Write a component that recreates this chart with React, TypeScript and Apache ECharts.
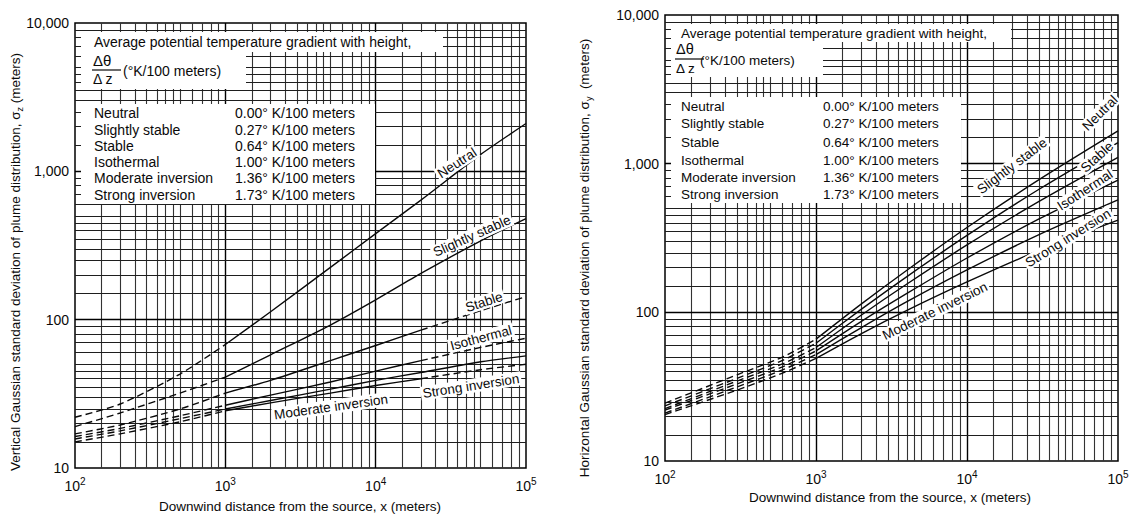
import React, { useEffect, useRef } from "react";
import * as echarts from "echarts";

// ---------- tick labels ----------
const xTickValues = [100, 1000, 10000, 100000];
const xTickLabels = ["10^2", "10^3", "10^4", "10^5"];
const yTickValues = [10, 100, 1000, 10000];
const yTickLabels = ["10", "100", "1,000", "10,000"];
const gridMultiples = [1.5, 2, 2.5, 3, 3.5, 4, 4.5, 5, 6, 7, 8, 9];

// ---------- legend ----------
const stabilityClasses = ["Neutral", "Slightly stable", "Stable", "Isothermal", "Moderate inversion", "Strong inversion"];
const gradientLabels = [
  "0.00\u00b0 K/100 meters",
  "0.27\u00b0 K/100 meters",
  "0.64\u00b0 K/100 meters",
  "1.00\u00b0 K/100 meters",
  "1.36\u00b0 K/100 meters",
  "1.73\u00b0 K/100 meters",
];

// ---------- vertical sigma_z (left panel) ----------
const sigmaZDistance = [100, 200, 500, 1000, 2000, 5000, 10000, 20000, 50000, 100000];
const sigmaZNeutral = [22, 27, 43, 68, 113, 225, 380, 640, 1300, 2100];
const sigmaZSlightlyStable = [19, 23.5, 32, 41, 58, 92, 136, 205, 340, 480];
const sigmaZStable = [17, 19.5, 25, 32, 39, 53, 67, 85, 115, 143];
const sigmaZIsothermal = [16.3, 18.5, 22.5, 26.5, 31, 38, 45, 53, 65, 75];
const sigmaZModerate = [15.7, 17.8, 21.5, 25, 28.5, 34, 39, 44, 52, 57];
const sigmaZStrong = [15, 17, 20.5, 24.3, 27.5, 32, 36, 40, 46, 50];

// ---------- horizontal sigma_y (right panel) ----------
const sigmaYDistance = [100, 300, 600, 1000, 2000, 4000, 10000, 30000, 100000];
const sigmaYNeutral = [24.5, 38, 50, 66, 114, 192, 372, 780, 1660];
const sigmaYSlightlyStable = [23.5, 36, 47.5, 62, 105, 174, 329, 673, 1387];
const sigmaYStable = [22.5, 34.5, 45, 58, 96, 155, 284, 558, 1104];
const sigmaYIsothermal = [22, 33, 43, 55, 87, 134, 232, 425, 776];
const sigmaYModerate = [21, 31.5, 41, 52, 79, 118, 193, 333, 570];
const sigmaYStrong = [20.5, 30, 39, 49, 72, 103, 160, 261, 417];

const FONT = "Liberation Sans, Arial, sans-serif";
const INK = "#0a0a0a";

type Seg = [number, number, "dashed" | "solid"];

function curveSeries(xs: number[], ys: number[], segs: Seg[], gi: number) {
  return segs.map(([a, b, kind]) => ({
    type: "line",
    xAxisIndex: gi,
    yAxisIndex: gi,
    data: xs.slice(a, b + 1).map((x, i) => [x, ys[a + i]]),
    symbol: "none",
    showSymbol: false,
    smooth: 0.25,
    silent: true,
    z: 5,
    lineStyle: { color: INK, width: 1.4, type: kind === "dashed" ? [7, 4] : "solid" },
  }));
}

function gridSeries(gi: number, xDecades: number[], yDecades: number[]) {
  const vx: any[] = [];
  xDecades.forEach((d) => gridMultiples.forEach((m) => vx.push({ xAxis: d * m, lineStyle: { color: "#333", width: 1.1 } })));
  xDecades.slice(1).forEach((d) => vx.push({ xAxis: d, lineStyle: { color: "#000", width: 1.4 } }));
  const hy: any[] = [];
  yDecades.forEach((d) => gridMultiples.forEach((m) => hy.push({ yAxis: d * m })));
  yDecades.slice(1).forEach((d) => hy.push({ yAxis: d, lineStyle: { color: "#000", width: 1.4 } }));
  return {
    type: "line",
    xAxisIndex: gi,
    yAxisIndex: gi,
    data: [],
    silent: true,
    z: 1,
    markLine: {
      silent: true,
      symbol: ["none", "none"],
      label: { show: false },
      lineStyle: { color: "#1e1e1e", width: 1, type: "solid" },
      data: [...vx, ...hy],
    },
  };
}

function xLabel(v: number) {
  const i = xTickValues.findIndex((t) => Math.abs(Math.log10(t) - Math.log10(v)) < 1e-6);
  if (i < 0) return "";
  const [b, e] = xTickLabels[i].split("^");
  return `{b|${b}}{sup|${e}}`;
}
function yLabel(v: number) {
  const i = yTickValues.findIndex((t) => Math.abs(Math.log10(t) - Math.log10(v)) < 1e-6);
  return i < 0 ? "" : yTickLabels[i];
}

function axisPair(gi: number, ymin: number) {
  return {
    x: {
      gridIndex: gi,
      type: "log",
      logBase: 10,
      min: 100,
      max: 100000,
      axisLine: { show: false },
      axisTick: { show: false },
      splitLine: { show: false },
      axisLabel: {
        margin: 8,
        showMinLabel: true,
        showMaxLabel: true,
        formatter: xLabel,
        rich: {
          b: { fontSize: 14, fontFamily: FONT, color: INK, lineHeight: 20 },
          sup: { fontSize: 10, fontFamily: FONT, color: INK, verticalAlign: "top", lineHeight: 20 },
        },
      },
    },
    y: {
      gridIndex: gi,
      type: "log",
      logBase: 10,
      min: ymin,
      max: 10000,
      axisLine: { show: false },
      axisTick: { show: false },
      splitLine: { show: false },
      axisLabel: {
        margin: 6,
        showMinLabel: true,
        showMaxLabel: true,
        formatter: yLabel,
        fontSize: 14,
        fontFamily: FONT,
        color: INK,
      },
    },
  };
}

function txt(x: number, y: number, text: string, extra: any = {}) {
  return {
    type: "text",
    x,
    y,
    z: 110,
    silent: true,
    style: {
      text,
      fontSize: 14,
      fontFamily: FONT,
      fill: INK,
      align: "left",
      verticalAlign: "middle",
      ...extra,
    },
  };
}

function curveLabel(x: number, y: number, text: string, deg: number) {
  return {
    type: "text",
    x,
    y,
    z: 110,
    rotation: (deg * Math.PI) / 180,
    silent: true,
    style: {
      text,
      fontSize: 13.5,
      fontFamily: FONT,
      fill: INK,
      align: "center",
      verticalAlign: "middle",
      backgroundColor: "#fff",
      padding: [0, 2],
    },
  };
}

function whiteRect(x: number, y: number, w: number, h: number) {
  return { type: "rect", z: 100, silent: true, shape: { x, y, width: w, height: h }, style: { fill: "#fff" } };
}

function legendBlock(
  px: number,
  headerY: number,
  fracX: number,
  fracY: number,
  unitX: number,
  nameX: number,
  valueX: number,
  rowYs: number[],
  fs: number
) {
  const els: any[] = [];
  els.push(txt(px, headerY, "Average potential temperature gradient with height,", { fontSize: fs }));
  els.push(txt(fracX, fracY - 10, "\u0394\u03b8", { fontSize: fs + 1 }));
  els.push(txt(fracX, fracY + 9, "\u0394 z", { fontSize: fs }));
  els.push({
    type: "line",
    z: 110,
    silent: true,
    shape: { x1: fracX - 1, y1: fracY, x2: fracX + 28, y2: fracY },
    style: { stroke: INK, lineWidth: 1.2 },
  });
  els.push(txt(unitX, fracY + 1, "(\u00b0K/100 meters)", { fontSize: fs }));
  stabilityClasses.forEach((n, i) => {
    els.push(txt(nameX, rowYs[i], n, { fontSize: fs }));
    els.push(txt(valueX, rowYs[i], gradientLabels[i], { fontSize: fs }));
  });
  return els;
}

export default function App() {
  const ref = useRef<HTMLDivElement>(null);
  useEffect(() => {
    document.body.style.margin = "0";
    if (!ref.current) return;
    const chart = echarts.init(ref.current, undefined, { renderer: "svg" });
    const left = axisPair(0, 10);
    const right = axisPair(1, 10);

    const leftSegsMain: Seg[] = [
      [0, 3, "dashed"],
      [3, 9, "solid"],
    ];
    const leftSegsTail: Seg[] = [
      [0, 3, "dashed"],
      [3, 7, "solid"],
      [7, 9, "dashed"],
    ];
    const rightSegs: Seg[] = [
      [0, 3, "dashed"],
      [3, 8, "solid"],
    ];

    const series: any[] = [
      gridSeries(0, [100, 1000, 10000], [10, 100, 1000]),
      gridSeries(1, [100, 1000, 10000], [10, 100, 1000]),
      ...curveSeries(sigmaZDistance, sigmaZNeutral, leftSegsMain, 0),
      ...curveSeries(sigmaZDistance, sigmaZSlightlyStable, leftSegsMain, 0),
      ...curveSeries(sigmaZDistance, sigmaZStable, leftSegsTail, 0),
      ...curveSeries(sigmaZDistance, sigmaZIsothermal, leftSegsTail, 0),
      ...curveSeries(sigmaZDistance, sigmaZModerate, leftSegsMain, 0),
      ...curveSeries(sigmaZDistance, sigmaZStrong, leftSegsTail, 0),
      ...curveSeries(sigmaYDistance, sigmaYNeutral, rightSegs, 1),
      ...curveSeries(sigmaYDistance, sigmaYSlightlyStable, rightSegs, 1),
      ...curveSeries(sigmaYDistance, sigmaYStable, rightSegs, 1),
      ...curveSeries(sigmaYDistance, sigmaYIsothermal, rightSegs, 1),
      ...curveSeries(sigmaYDistance, sigmaYModerate, rightSegs, 1),
      ...curveSeries(sigmaYDistance, sigmaYStrong, rightSegs, 1),
    ];

    const graphics: any[] = [
      whiteRect(81, 32, 362, 20),
      whiteRect(81, 52, 165, 37),
      whiteRect(81, 104, 294, 100),
      whiteRect(671, 24, 340, 18),
      whiteRect(671, 42, 152, 35),
      whiteRect(671, 97, 290, 106),
      ...legendBlock(94, 42, 93, 70, 123, 94, 235, [113, 130, 146, 162, 178, 195], 14),
      ...legendBlock(681, 33, 676, 59, 700, 681, 823, [106, 123, 142, 160, 177, 194], 13.5),
      curveLabel(457, 163, "Neutral", 33),
      curveLabel(472, 236, "Slightly stable", 24),
      curveLabel(484, 302, "Stable", 18),
      curveLabel(481, 338, "Isothermal", 15),
      curveLabel(471, 386, "Strong inversion", 9),
      curveLabel(331, 407, "Moderate inversion", 8),
      curveLabel(1100, 113, "Neutral", 45),
      curveLabel(1012, 166, "Slightly stable", 37),
      curveLabel(1097, 157, "Stable", 42),
      curveLabel(1085, 190, "Isothermal", 33),
      curveLabel(1068, 238, "Strong inversion", 32),
      curveLabel(935, 311, "Moderate inversion", 26),
      {
        type: "text",
        x: 15,
        y: 262,
        rotation: Math.PI / 2,
        z: 110,
        silent: true,
        style: {
          text: "{t|Vertical Gaussian standard deviation of plume distribution, \u03c3}{s|z}{t| (meters)}",
          align: "center",
          verticalAlign: "middle",
          rich: {
            t: { fontSize: 13.5, fontFamily: FONT, fill: INK, lineHeight: 18 },
            s: { fontSize: 9, fontFamily: FONT, fill: INK, verticalAlign: "bottom", lineHeight: 18 },
          },
        },
      },
      {
        type: "text",
        x: 584,
        y: 258,
        rotation: Math.PI / 2,
        z: 110,
        silent: true,
        style: {
          text: "{t|Horizontal Gaussian standard deviation of plume distribution, \u03c3}{s|y}{t|  (meters)}",
          align: "center",
          verticalAlign: "middle",
          rich: {
            t: { fontSize: 13.5, fontFamily: FONT, fill: INK, lineHeight: 18 },
            s: { fontSize: 9, fontFamily: FONT, fill: INK, verticalAlign: "bottom", lineHeight: 18 },
          },
        },
      },
      txt(300, 506, "Downwind distance from the source, x (meters)", { align: "center", fontSize: 13.5 }),
      txt(890, 497, "Downwind distance from the source, x (meters)", { align: "center", fontSize: 13.5 }),
    ];

    chart.setOption({
      animation: false,
      backgroundColor: "#fff",
      grid: [
        { left: 75, top: 23, width: 451, height: 445, show: true, borderColor: "#000", borderWidth: 1.5, containLabel: false },
        { left: 665, top: 15, width: 453, height: 446, show: true, borderColor: "#000", borderWidth: 1.5, containLabel: false },
      ],
      xAxis: [left.x, right.x],
      yAxis: [left.y, right.y],
      series,
      graphic: graphics,
    });
    return () => chart.dispose();
  }, []);
  return <div ref={ref} style={{ width: 1141, height: 516 }} />;
}
